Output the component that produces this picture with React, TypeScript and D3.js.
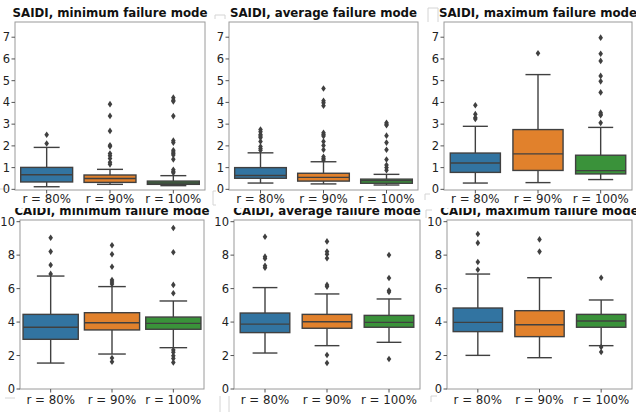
import React from "react";
import * as d3 from "d3";

// box-plot summaries: [lowWhisker, q1, median, q3, highWhisker]
const categories = ["r = 80%", "r = 90%", "r = 100%"];
const colors = ["#3274a1", "#e1812c", "#3a923a"];

const saidiMinStats = [
  [0.12, 0.34, 0.67, 1.01, 1.93],
  [0.23, 0.32, 0.5, 0.66, 0.92],
  [0.17, 0.23, 0.29, 0.38, 0.63],
];
const saidiMinOutliers = [
  [2.51, 2.11],
  [3.92, 3.38, 2.69, 2.03, 1.97, 1.65, 1.55, 1.42, 1.25, 1.15],
  [4.22, 4.1, 4.05, 3.37, 2.24, 2.15, 1.8, 1.72, 1.65, 1.58, 1.38, 0.9, 0.82, 0.76],
];

const saidiAvgStats = [
  [0.29, 0.51, 0.64, 1.0, 1.68],
  [0.25, 0.38, 0.55, 0.74, 1.27],
  [0.2, 0.28, 0.4, 0.47, 0.69],
];
const saidiAvgOutliers = [
  [2.75, 2.65, 2.52, 2.45, 2.38, 2.2, 1.97, 1.88, 1.8],
  [4.64, 4.08, 3.98, 3.85, 2.6, 2.52, 2.45, 2.2, 2.02, 1.82, 1.5, 1.42, 1.35],
  [3.06, 3.0, 2.95, 2.47, 2.15, 1.82, 1.37, 1.12, 1.0, 0.88],
];

const saidiMaxStats = [
  [0.29, 0.78, 1.21, 1.67, 2.9],
  [0.31, 0.87, 1.63, 2.75, 5.28],
  [0.45, 0.71, 0.86, 1.57, 2.85],
];
const saidiMaxOutliers = [
  [3.87, 3.46, 3.3, 3.24],
  [6.26],
  [6.98, 6.24, 5.91, 5.22, 4.97, 4.46, 3.53, 3.45, 3.41, 3.06],
];

const caidiMinStats = [
  [1.55, 2.97, 3.69, 4.46, 6.75],
  [2.09, 3.53, 3.96, 4.56, 6.12],
  [2.47, 3.57, 3.92, 4.3, 5.26],
];
const caidiMinOutliers = [
  [9.04, 8.21, 7.41, 6.88],
  [8.59, 8.05, 7.31, 6.51, 6.4, 6.27, 1.85, 1.63],
  [9.62, 8.17, 6.22, 5.72, 2.33, 2.2, 1.99, 1.83, 1.59],
];

const caidiAvgStats = [
  [2.15, 3.37, 3.88, 4.54, 6.06],
  [2.59, 3.63, 4.02, 4.46, 5.68],
  [2.79, 3.69, 3.98, 4.4, 5.38],
];
const caidiAvgOutliers = [
  [9.1, 7.91, 7.8, 7.37, 7.25],
  [8.82, 8.21, 8.05, 7.81, 6.22, 6.12, 2.03, 1.55],
  [8.01, 6.63, 5.88, 5.8, 1.79],
];

const caidiMaxStats = [
  [2.01, 3.43, 3.98, 4.84, 6.87],
  [1.87, 3.13, 3.84, 4.68, 6.65],
  [2.59, 3.69, 4.06, 4.46, 5.32],
];
const caidiMaxOutliers = [
  [9.26, 8.73, 7.59, 7.13],
  [8.94, 8.21],
  [6.65, 2.51, 2.21],
];

const saidiTicks = [0, 1, 2, 3, 4, 5, 6, 7];
const caidiTicks = [0, 2, 4, 6, 8, 10];

const top = { top: 22, bottom: 190, domain: [-0.03, 7.7], ticks: saidiTicks, titleY: 17, labelY: 202.5 };
const bot = { top: 220, bottom: 389, domain: [0, 10.1], ticks: caidiTicks, titleY: 215, labelY: 404 };

const panels = [
  { ...bot, title: "CAIDI, minimum failure mode", stats: caidiMinStats, outliers: caidiMinOutliers, left: 20, right: 204, frac: 0.9, clip: true },
  { ...bot, title: "CAIDI, average failure mode", stats: caidiAvgStats, outliers: caidiAvgOutliers, left: 234, right: 420, frac: 0.8, clip: true },
  { ...bot, title: "CAIDI, maximum failure mode", stats: caidiMaxStats, outliers: caidiMaxOutliers, left: 447, right: 632, frac: 0.8, clip: true },
  { ...top, title: "SAIDI, minimum failure mode", stats: saidiMinStats, outliers: saidiMinOutliers, left: 15, right: 205, frac: 0.82, clip: false },
  { ...top, title: "SAIDI, average failure mode", stats: saidiAvgStats, outliers: saidiAvgOutliers, left: 229, right: 418, frac: 0.82, clip: false },
  { ...top, title: "SAIDI, maximum failure mode", stats: saidiMaxStats, outliers: saidiMaxOutliers, left: 444, right: 632, frac: 0.8, clip: false },
];

// faint leftover frame fragments seen between the stitched panels
const seams = [
  "M215,19V15H225V19",
  "M428,22V8H438V22",
  "M216,191H213V205H216",
  "M430,194H425V200",
  "M0,189H7",
  "M220,396V412",
  "M229,396V412",
  "M5,398H15",
  "M437,396H431V402",
  "M432,210H426V218",
];

const font = "'DejaVu Sans', Verdana, sans-serif";
const lineColor = "#404040";

const Panel = ({ p }) => {
  const x = d3.scaleBand().domain(categories).range([p.left, p.right]);
  const y = d3.scaleLinear().domain(p.domain).range([p.bottom, p.top]);
  const bw = x.bandwidth() * p.frac;
  const diamond = "M0,-3.3L2.3,0L0,3.3L-2.3,0Z";
  return (
    <g>
      <rect x={p.left} y={p.top} width={p.right - p.left} height={p.bottom - p.top} fill="white" stroke="#9a9a9a" strokeWidth={1} />
      {p.ticks.map((t) => (
        <g key={t}>
          <line x1={p.left - 3.5} x2={p.left} y1={y(t)} y2={y(t)} stroke="#555" />
          <text x={p.left - 5} y={y(t)} dy="0.35em" textAnchor="end" fontSize={11.5} fontFamily={font} fill="#222">
            {t}
          </text>
        </g>
      ))}
      {categories.map((c, j) => {
        const cx = x(c) + x.bandwidth() / 2;
        const [lo, q1, med, q3, hi] = p.stats[j];
        return (
          <g key={c}>
            <line x1={cx} x2={cx} y1={p.bottom} y2={p.bottom + 3.5} stroke="#555" />
            <text x={cx} y={p.labelY} textAnchor="middle" fontSize={11.8} fontFamily={font} fill="#222">
              {c}
            </text>
            <line x1={cx} x2={cx} y1={y(q3)} y2={y(hi)} stroke={lineColor} strokeWidth={1.4} />
            <line x1={cx} x2={cx} y1={y(q1)} y2={y(lo)} stroke={lineColor} strokeWidth={1.4} />
            <line x1={cx - bw / 4} x2={cx + bw / 4} y1={y(hi)} y2={y(hi)} stroke={lineColor} strokeWidth={1.4} />
            <line x1={cx - bw / 4} x2={cx + bw / 4} y1={y(lo)} y2={y(lo)} stroke={lineColor} strokeWidth={1.4} />
            <rect x={cx - bw / 2} y={y(q3)} width={bw} height={y(q1) - y(q3)} fill={colors[j]} stroke={lineColor} strokeWidth={1.4} />
            <line x1={cx - bw / 2} x2={cx + bw / 2} y1={y(med)} y2={y(med)} stroke={lineColor} strokeWidth={1.4} />
            {p.outliers[j].map((v, k) => (
              <path key={k} d={diamond} transform={`translate(${cx},${y(v)})`} fill={lineColor} />
            ))}
          </g>
        );
      })}
      <text
        x={(p.left + p.right) / 2}
        y={p.titleY}
        textAnchor="middle"
        fontSize={11.8}
        fontWeight="bold"
        fontFamily={font}
        fill="#111"
        clipPath={p.clip ? "url(#titleClip)" : undefined}
      >
        {p.title}
      </text>
    </g>
  );
};

export default function App() {
  return (
    <svg width={636} height={412} style={{ position: "absolute", left: 0, top: 0, background: "white" }}>
      <defs>
        <clipPath id="titleClip">
          <rect x={0} y={208} width={636} height={12} />
        </clipPath>
      </defs>
      <rect width={636} height={412} fill="white" />
      {seams.map((d, i) => (
        <path key={i} d={d} fill="none" stroke="#d4d4d4" strokeWidth={1} />
      ))}
      {panels.map((p, i) => (
        <Panel key={i} p={p} />
      ))}
    </svg>
  );
}
